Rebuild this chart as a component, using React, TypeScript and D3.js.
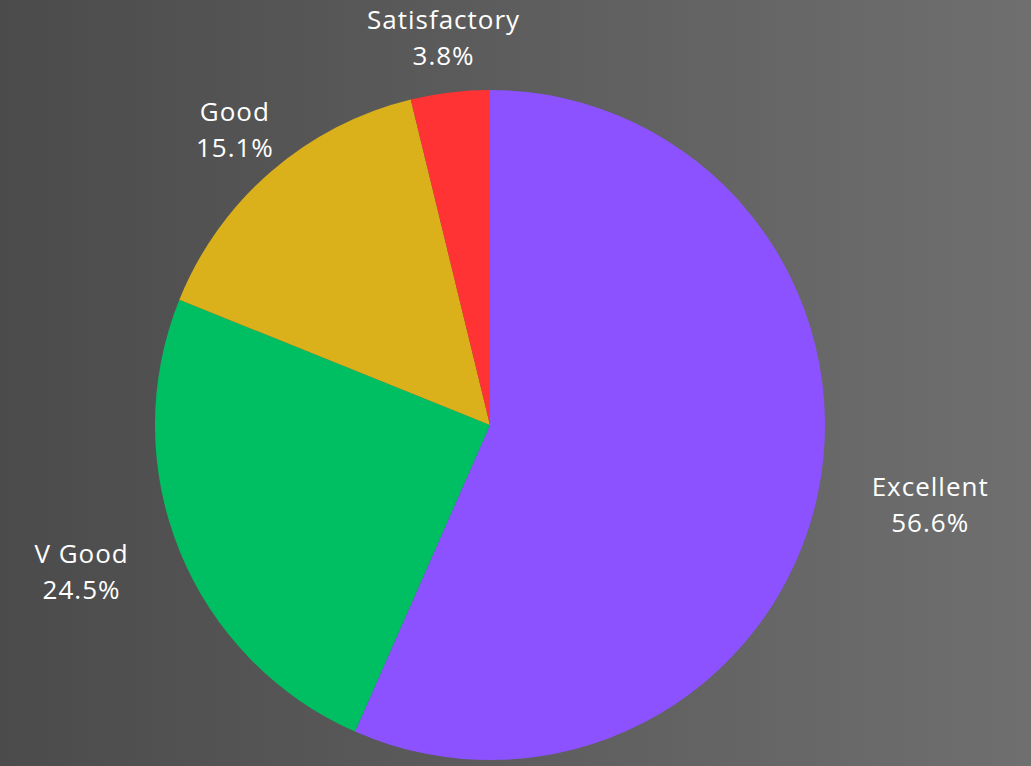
import React, { useEffect, useRef } from "react";
import * as d3 from "d3";

const categories = ["Excellent", "V Good", "Good", "Satisfactory"];
const values = [56.6, 24.5, 15.1, 3.8];
const colors = ["#8c52ff", "#00bf63", "#dab11a", "#ff3333"];

const W = 1031;
const H = 766;

export default function App() {
  const ref = useRef<SVGSVGElement | null>(null);

  useEffect(() => {
    const svg = d3.select(ref.current);
    svg.selectAll("*").remove();

    const defs = svg.append("defs");
    const grad = defs
      .append("linearGradient")
      .attr("id", "bg")
      .attr("x1", "0%")
      .attr("y1", "0%")
      .attr("x2", "100%")
      .attr("y2", "0%");
    grad.append("stop").attr("offset", "0%").attr("stop-color", "#4b4b4b");
    grad.append("stop").attr("offset", "100%").attr("stop-color", "#6f6f6f");
    svg.append("rect").attr("width", W).attr("height", H).attr("fill", "url(#bg)");

    const cx = 490;
    const cy = 425;
    const R = 335;

    const data = categories.map((c, i) => ({ name: c, value: values[i], color: colors[i] }));
    const pie = d3
      .pie<any>()
      .value((d: any) => d.value)
      .sort(null);
    const arcs = pie(data);
    const arc = d3.arc<any>().innerRadius(0).outerRadius(R);

    const g = svg.append("g").attr("transform", `translate(${cx},${cy})`);
    g.selectAll("path")
      .data(arcs)
      .enter()
      .append("path")
      .attr("d", arc as any)
      .attr("fill", (d: any) => d.data.color);

    const fs = 26;
    const lh = 36;
    const labelR = R + 55;
    arcs.forEach((a: any) => {
      const mid = (a.startAngle + a.endAngle) / 2;
      const ux = Math.sin(mid);
      const uy = -Math.cos(mid);
      const side = Math.abs(ux) > 0.8;
      const t = g
        .append("text")
        .attr("text-anchor", "middle")
        .attr("fill", "#ffffff")
        .style("font-family", "'Open Sans', 'Noto Sans', sans-serif")
        .style("font-size", `${fs}px`)
        .style("letter-spacing", "1px");
      t.append("tspan").attr("x", 0).attr("dy", 0).text(a.data.name);
      t.append("tspan")
        .attr("x", 0)
        .attr("dy", lh)
        .text(`${a.data.value.toFixed(1)}%`);
      const bb = (t.node() as SVGTextElement).getBBox();
      const hw = bb.width / 2;
      const x = labelR * ux + (side ? Math.sign(ux) * hw : 0);
      const y = labelR * uy;
      const blockCenterOffset = lh / 2 - fs * 0.35;
      t.attr("transform", `translate(${x},${y - blockCenterOffset})`);
    });
  }, []);

  return (
    <svg
      ref={ref}
      width={W}
      height={H}
      style={{ position: "fixed", left: 0, top: 0, display: "block" }}
    />
  );
}
